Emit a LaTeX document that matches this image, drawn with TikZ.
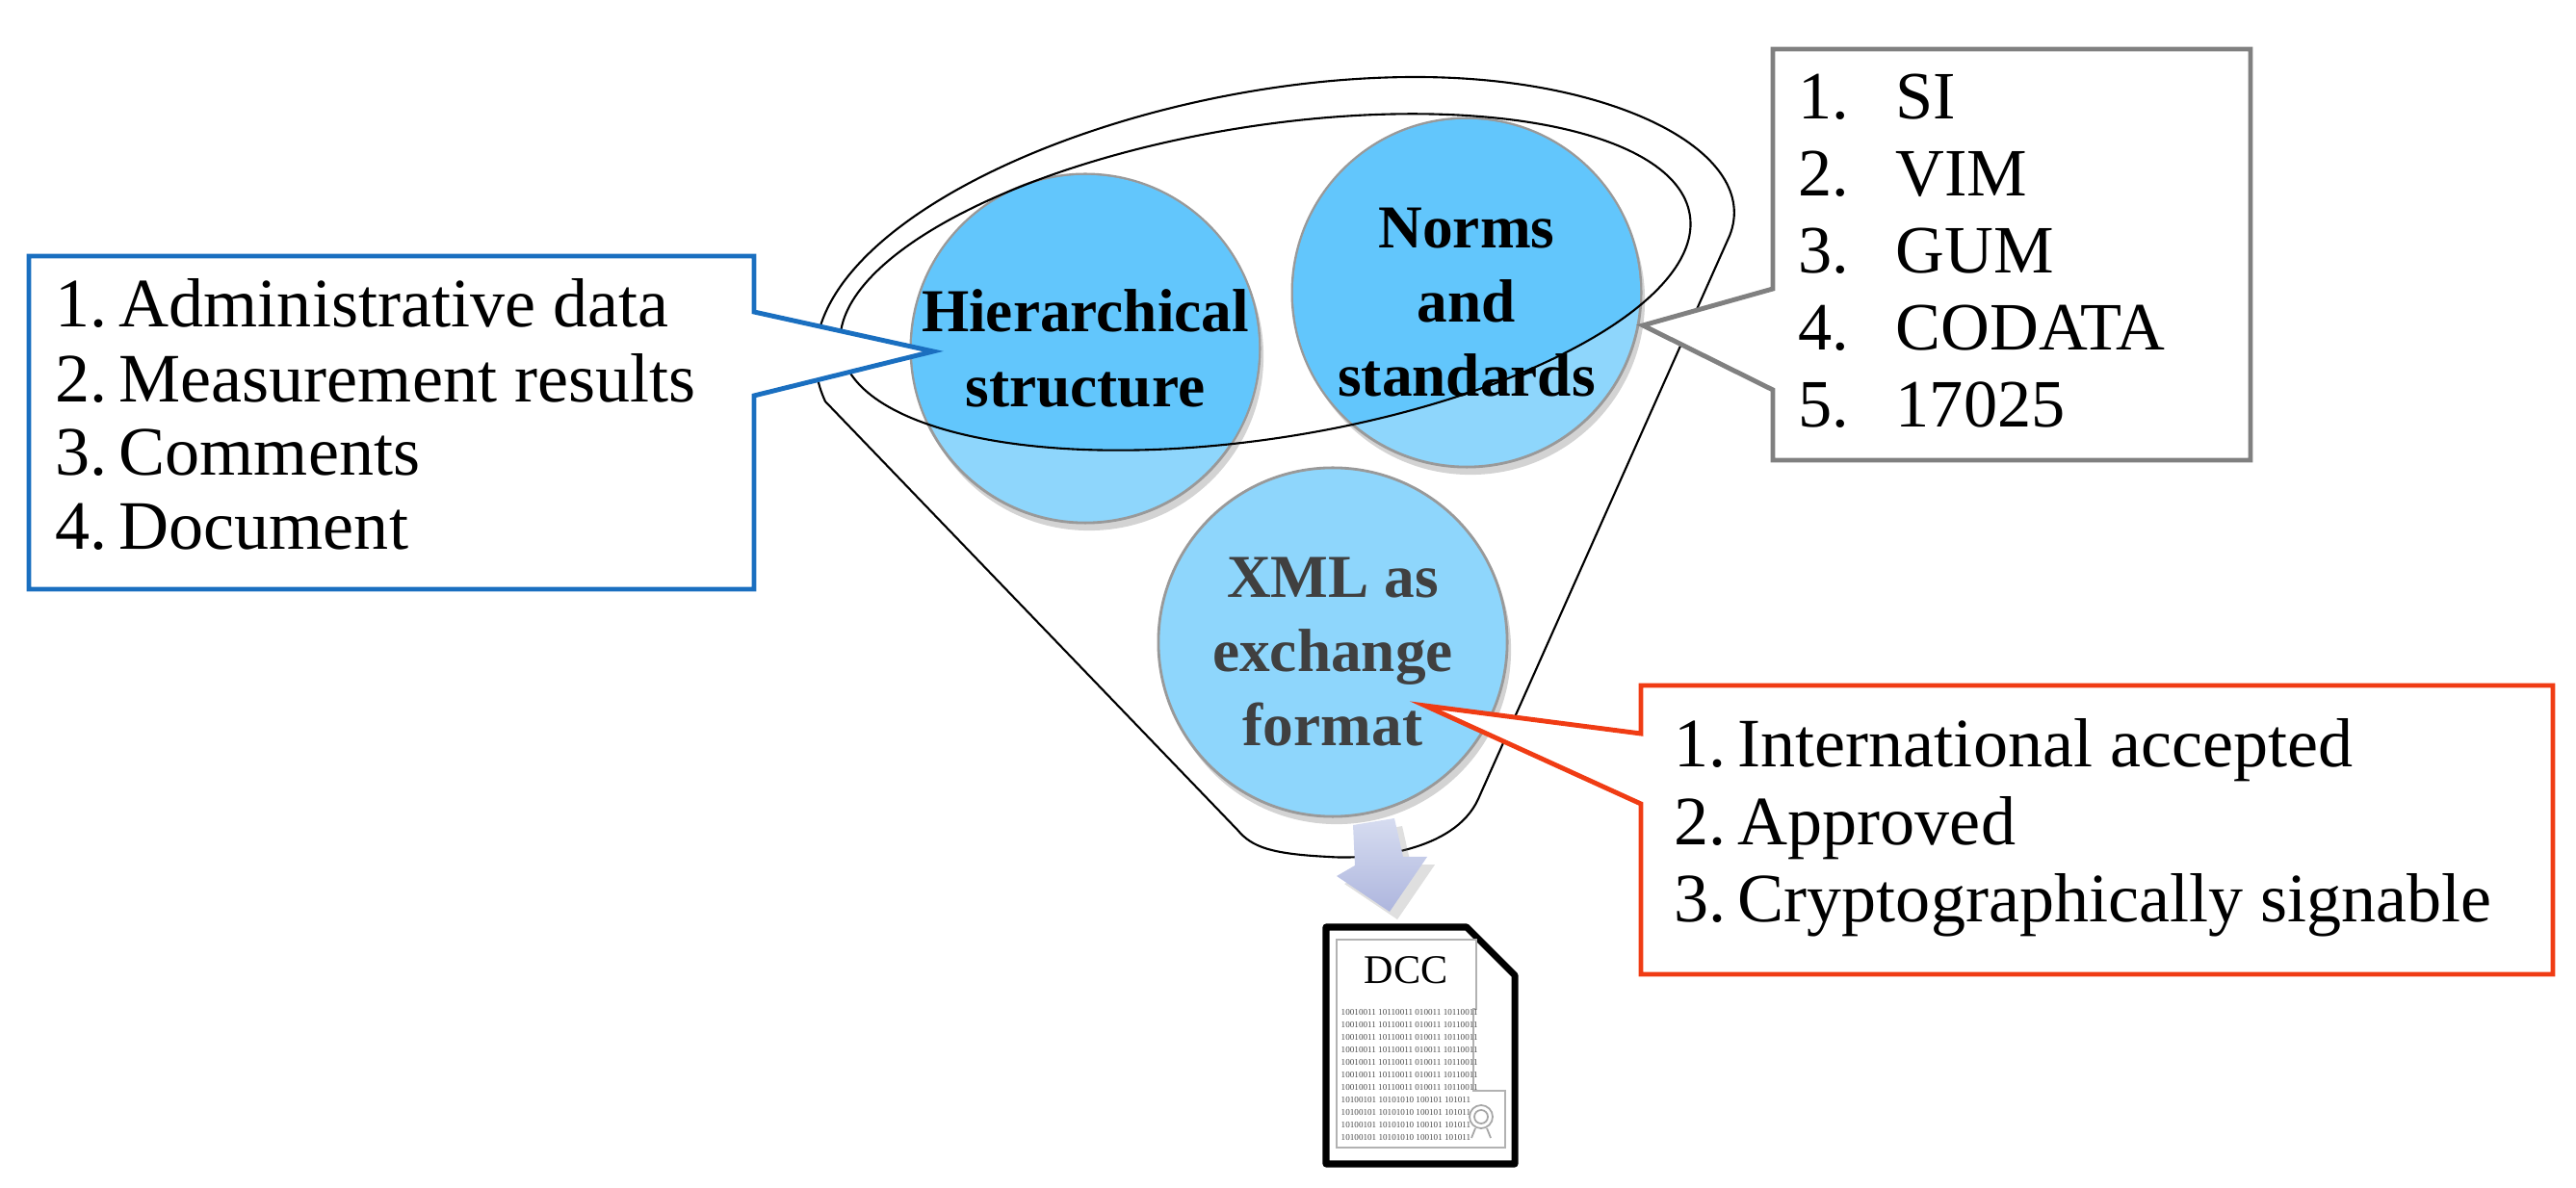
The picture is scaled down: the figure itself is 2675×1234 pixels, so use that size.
\documentclass[tikz,border=0pt]{standalone}
\usepackage{fontspec}
\setmainfont{Liberation Serif}
\usetikzlibrary{shadows}
\definecolor{cdark}{HTML}{62C6FC}
\definecolor{clight}{HTML}{8ED6FC}
\definecolor{cblue}{HTML}{1A6FC0}
\definecolor{cgray}{HTML}{808080}
\definecolor{cred}{HTML}{F03C14}
\definecolor{arrA}{HTML}{D6DCF0}
\definecolor{arrB}{HTML}{AEB6DE}
\begin{document}
\begin{tikzpicture}[x=0.01cm,y=-0.01cm,
  bubble/.style={circle,minimum size=3.62cm,draw=gray!80,line width=0.8pt,fill=clight,
    drop shadow={opacity=0.35,shadow xshift=0.4mm,shadow yshift=-0.8mm}},
  btxt/.style={font=\fontsize{18}{22}\selectfont\bfseries,align=center},
  callout/.style={line width=1.4pt,fill=white},
  item/.style={anchor=base west,inner sep=0pt}]
\useasboundingbox (0,0) rectangle (2675,1234);
% bubbles
\node[bubble] (h) at (1127,362) {};
\node[bubble] (n) at (1523,304) {};
\node[bubble] (x) at (1384,667) {};
\begin{scope}
\clip (1314,293) ellipse [x radius=4.46cm,y radius=1.62cm,rotate=9];
\fill[cdark] (h.center) circle (1.80cm);
\fill[cdark] (n.center) circle (1.80cm);
\end{scope}
\node[btxt] at (h.center) {Hierarchical\\structure};
\node[btxt] at ([yshift=-0.1cm]n.center) {Norms\\and\\standards};
\node[btxt,text=black!75] at ([yshift=-0.1cm]x.center) {XML as\\exchange\\format};
% funnel
\draw[line width=0.6pt] (857,417) .. controls (780,250) and (1150,80) .. (1470,80)
  .. controls (1680,80) and (1830,160) .. (1796,245) -- (1535,830)
  .. controls (1510,885) and (1420,893) .. (1380,890)
  .. controls (1320,887) and (1300,880) .. (1285,862) -- cycle;
\draw[line width=0.6pt] (1314,293) ellipse [x radius=4.46cm,y radius=1.62cm,rotate=9];
% callouts
\coordinate (tb) at (969,365);
\coordinate (tg) at (1706,338);
\coordinate (tr) at (1480,733);
\draw[callout,draw=cblue] (30,266) -- (783,266) -- (783,324) -- (tb) -- (783,411) -- (783,612) -- (30,612) -- cycle;
\draw[callout,draw=cgray] (1841,51) -- (2337,51) -- (2337,478) -- (1841,478) -- (1841,405) -- (tg) -- (1841,300) -- cycle;
\draw[callout,draw=cred] (1704,712) -- (2651,712) -- (2651,1012) -- (1704,1012) -- (1704,835) -- (tr) -- (1704,762) -- cycle;
\begin{scope}[font=\fontsize{20.5}{22}\selectfont]
\node[item] (b1) at (57,340) {1.\,Administrative data};
\node[item] (b2) at (57,418) {2.\,Measurement results};
\node[item] (b3) at (57,494) {3.\,Comments};
\node[item] (b4) at (57,571) {4.\,Document};
\node[item] (r1) at (1738,797) {1.\,International accepted};
\node[item] (r2) at (1738,877) {2.\,Approved};
\node[item] (r3) at (1738,957) {3.\,Cryptographically signable};
\end{scope}
\begin{scope}[font=\fontsize{20}{22}\selectfont]
\foreach \i/\t [count=\k] in {1/SI,2/VIM,3/GUM,4/CODATA,5/17025}{
  \node[item] (gn\k) at (1867,44+80*\k) {\i.};
  \node[item] (gt\k) at (1968,44+80*\k) {\t};
}
\end{scope}
% arrow
\shade[top color=arrA,bottom color=arrB,drop shadow={opacity=0.25}] (1405,857) -- (1448,850) -- (1457,890) -- (1482,890) -- (1443,947) -- (1388,910) -- (1407,899) -- cycle;
% document
\draw[line width=2pt,line join=round,fill=white] (1377,963) -- (1523,963) -- (1573,1013) -- (1573,1209) -- (1377,1209) -- cycle;
\draw[gray!60,line width=0.3pt] (1388,976) -- (1533,976) -- (1533,1048) -- (1530,1048) -- (1530,1133) -- (1563,1133) -- (1563,1192) -- (1388,1192) -- cycle;
\node[font=\fontsize{12}{14}\selectfont] (dcc) at (1460,1008) {DCC};
\foreach \r in {0,...,10}{
  \node[anchor=west,inner sep=0pt,text=black!70,font=\fontsize{2.6}{3}\selectfont] at (1392,1052+13*\r)
   {\ifnum\r<7 10010011 10110011 010011 10110011\else 10100101 10101010 100101 101011\fi};
}
\draw[gray!70,line width=0.5pt] (1538,1160) circle (0.12cm) circle (0.07cm);
\draw[gray!70,line width=0.5pt] (1532,1172) -- (1528,1182) (1544,1172) -- (1548,1182);
\end{tikzpicture}
\end{document}
